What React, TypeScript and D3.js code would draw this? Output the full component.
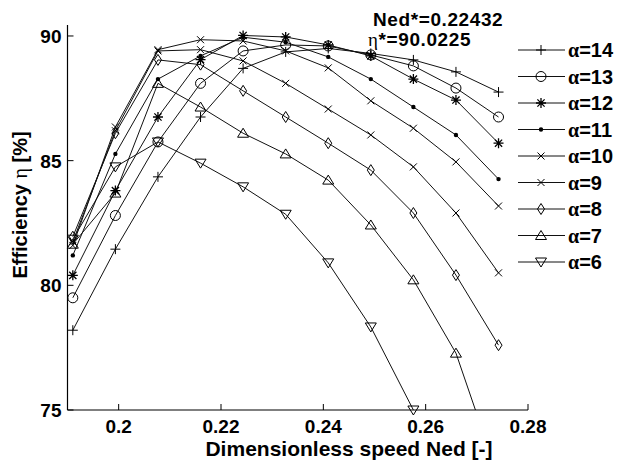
import { useEffect } from "react";
import * as d3 from "d3";

// Ned values shared by every alpha curve
const NED = [0.19104, 0.19936, 0.20768, 0.216, 0.22432, 0.23264, 0.24096, 0.24928, 0.2576, 0.26592, 0.27424];

const eff14 = [78.2, 81.45, 84.35, 86.75, 88.7, 89.36, 89.5, 89.3, 89.04, 88.56, 87.75];
const eff13 = [79.5, 82.8, 85.75, 88.1, 89.4, 89.64, 89.6, 89.24, 88.8, 87.91, 86.75];
const eff12 = [80.4, 83.8, 86.75, 89.05, 90.02, 89.96, 89.64, 89.2, 88.27, 87.43, 85.7];
const eff11 = [81.2, 85.27, 88.27, 89.2, 89.95, 89.75, 89.16, 88.27, 87.15, 86.03, 84.26];
const eff10 = [81.6, 86.35, 89.45, 89.85, 89.8, 89.4, 88.72, 87.4, 86.3, 84.95, 83.18];
const eff9 = [81.75, 86.2, 89.4, 89.45, 89.0, 88.1, 87.07, 86.03, 84.75, 82.9, 80.5];
const eff8 = [81.95, 86.1, 89.04, 88.85, 87.8, 86.75, 85.7, 84.62, 82.9, 80.41, 77.6];
const eff7 = [81.65, 83.7, 88.1, 87.15, 86.1, 85.27, 84.22, 82.42, 80.22, 77.28, 72.3];
const eff6 = [81.85, 84.75, 85.75, 84.9, 83.95, 82.85, 80.9, 78.33, 75.0];

const ALPHAS = [14, 13, 12, 11, 10, 9, 8, 7, 6];
const MARKERS = ["plus", "circle", "star", "dot", "cross", "cross", "diamond", "triangle", "triangleDown"];
const X_TICKS = [0.2, 0.22, 0.24, 0.26, 0.28];
const Y_TICKS = [75, 80, 85, 90];

const series = [eff14, eff13, eff12, eff11, eff10, eff9, eff8, eff7, eff6];

const W = 622;
const H = 466;
const margin = { left: 67.5, right: 94, top: 25, bottom: 56 };

function Marker({ type, x, y }: { type: string; x: number; y: number }) {
  const st = { stroke: "#000", strokeWidth: 1, fill: "none" };
  if (type === "plus")
    return <path d={`M${x - 5},${y}H${x + 5}M${x},${y - 5}V${y + 5}`} {...st} />;
  if (type === "circle") return <circle cx={x} cy={y} r={5} {...st} />;
  if (type === "star")
    return (
      <path
        d={`M${x - 5},${y}H${x + 5}M${x},${y - 5}V${y + 5}M${x - 3.6},${y - 3.6}L${x + 3.6},${y + 3.6}M${x - 3.6},${y + 3.6}L${x + 3.6},${y - 3.6}`}
        {...st}
        strokeWidth={1.3}
      />
    );
  if (type === "dot") return <circle cx={x} cy={y} r={2.2} fill="#000" />;
  if (type === "cross")
    return <path d={`M${x - 3.5},${y - 3.5}L${x + 3.5},${y + 3.5}M${x - 3.5},${y + 3.5}L${x + 3.5},${y - 3.5}`} {...st} />;
  if (type === "diamond")
    return <path d={`M${x},${y - 5.5}L${x + 3.5},${y}L${x},${y + 5.5}L${x - 3.5},${y}Z`} {...st} />;
  if (type === "triangle")
    return <path d={`M${x},${y - 5}L${x + 5.5},${y + 4}L${x - 5.5},${y + 4}Z`} {...st} />;
  return <path d={`M${x},${y + 5}L${x + 5.5},${y - 4}L${x - 5.5},${y - 4}Z`} {...st} />;
}

export default function App() {
  useEffect(() => {
    document.body.style.margin = "0";
  }, []);

  const x = d3.scaleLinear().domain([0.19, 0.28]).range([margin.left, W - margin.right]);
  const y = d3.scaleLinear().domain([75, 90.44]).range([H - margin.bottom, margin.top]);
  const line = d3
    .line<number>()
    .x((_, i) => x(NED[i]))
    .y((d) => y(d));

  const font = "'Liberation Sans', Arial, sans-serif";
  const greek = "'Liberation Serif', 'Times New Roman', serif";
  const x0 = x.range()[0];
  const x1 = x.range()[1];
  const yb = y.range()[0];
  const yt = y.range()[1];

  return (
    <svg width={W} height={H} style={{ display: "block", background: "#fff" }}>
      <defs>
        <clipPath id="plotClip">
          <rect x={x0} y={yt} width={x1 - x0} height={yb - yt} />
        </clipPath>
      </defs>
      <rect width={W} height={H} fill="#fff" />

      {/* curves */}
      <g clipPath="url(#plotClip)">
        {series.map((s, k) => (
          <path key={k} d={line(s) || ""} fill="none" stroke="#111" strokeWidth={1} />
        ))}
      </g>
      {series.map((s, k) => (
        <g key={"m" + k}>
          {s.map((v, i) =>
            v >= 74.9 ? <Marker key={i} type={MARKERS[k]} x={x(NED[i])} y={y(v)} /> : null
          )}
        </g>
      ))}

      {/* axes */}
      <line x1={x0} x2={x0} y1={yt} y2={yb} stroke="#000" strokeWidth={1.2} />
      <line x1={x0} x2={x1} y1={yb} y2={yb} stroke="#000" strokeWidth={1.2} />
      {X_TICKS.map((t) => (
        <g key={t}>
          <line x1={x(t)} x2={x(t)} y1={yb} y2={yb - 6} stroke="#000" />
          <text x={x(t)} y={yb + 23} textAnchor="middle" fontFamily={font} fontWeight="bold" fontSize={19}>
            {d3.format("~g")(t)}
          </text>
        </g>
      ))}
      {Y_TICKS.map((t) => (
        <g key={t}>
          <line x1={x0} x2={x0 + 6} y1={y(t)} y2={y(t)} stroke="#000" />
          <text x={x0 - 6} y={y(t) + 7} textAnchor="end" fontFamily={font} fontWeight="bold" fontSize={19}>
            {t}
          </text>
        </g>
      ))}

      {/* axis titles */}
      <text x={349} y={456} textAnchor="middle" fontFamily={font} fontWeight="bold" fontSize={21}>
        Dimensionless speed Ned [-]
      </text>
      <text
        transform="translate(27,205) rotate(-90)"
        textAnchor="middle"
        fontFamily={font}
        fontWeight="bold"
        fontSize={20}
      >
        Efficiency{"  "}
        <tspan fontFamily={greek} fontWeight="normal">η</tspan> [%]
      </text>

      {/* optimum annotation */}
      <text x={373} y={26} fontFamily={font} fontWeight="bold" fontSize={19} letterSpacing={0.6}>
        Ned*=0.22432
      </text>
      <text x={368} y={46} fontFamily={font} fontWeight="bold" fontSize={19} letterSpacing={0.6}>
        <tspan fontFamily={greek} fontWeight="normal">η</tspan>*=90.0225
      </text>

      {/* legend */}
      {ALPHAS.map((a, k) => {
        const ly = 50 + k * 26.5;
        return (
          <g key={a}>
            <line x1={518} x2={565} y1={ly} y2={ly} stroke="#111" />
            <Marker type={MARKERS[k]} x={541} y={ly} />
            <text x={568} y={ly + 7} fontFamily={font} fontWeight="bold" fontSize={20}>
              <tspan fontFamily={greek}>α</tspan>={a}
            </text>
          </g>
        );
      })}
    </svg>
  );
}
